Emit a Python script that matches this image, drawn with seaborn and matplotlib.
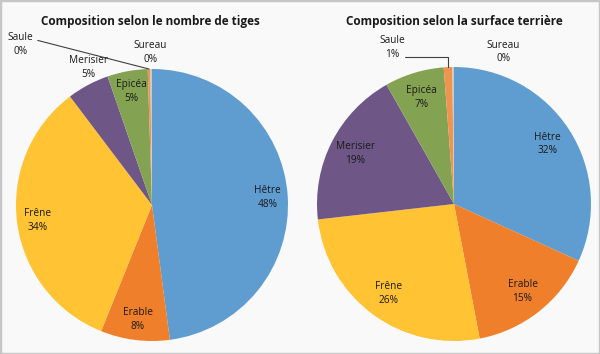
import numpy as np
import seaborn as sns
import matplotlib.pyplot as plt
from matplotlib.patches import Rectangle

species = ['Hêtre', 'Erable', 'Frêne', 'Merisier', 'Epicéa', 'Saule', 'Sureau']
tiges = [47.9, 8.2, 33.6, 5.0, 4.8, 0.3, 0.2]
surface = [31.8, 15.2, 26.2, 18.6, 7.0, 1.0, 0.2]
pct_tiges = ['48%', '8%', '34%', '5%', '5%', '0%', '0%']
pct_surface = ['32%', '15%', '26%', '19%', '7%', '1%', '0%']
titles = ['Composition selon le nombre de tiges',
          'Composition selon la surface terrière']

colors = ['#5f9dd1', '#f07f2b', '#ffc333', '#6e5687', '#83a352', '#ee944f', '#c9c9c9']

sns.set_theme(style='white')
plt.rcParams['font.family'] = ['Open Sans', 'DejaVu Sans']

fig = plt.figure(figsize=(6.0, 3.54), dpi=100, facecolor='#f9f9f9')
fig.patches.append(Rectangle((0, 0), 1, 1, transform=fig.transFigure,
                             fill=False, edgecolor='#c6c6c6', linewidth=2.5))

W, H = 600, 354


def pie_axes(cx, cy, r):
    return fig.add_axes([(cx - r) / W, (H - cy - r) / H, 2 * r / W, 2 * r / H])


def polar(theta, rad):
    t = np.deg2rad(theta)
    return rad * np.cos(t), rad * np.sin(t)


# label placement: inside at inner_r, or explicit xy for the small slices
outside = [
    {3: (-0.47, 1.01), 5: (-0.97, 1.18), 6: (-0.01, 1.12)},
    {5: (-0.45, 1.14), 6: (0.36, 1.11)},
]
inner_r = [0.85, 0.81]

specs = [(152, 205, 136, tiges, pct_tiges), (454, 204, 137, surface, pct_surface)]
for k, (cx, cy, r, vals, pcts) in enumerate(specs):
    ax = pie_axes(cx, cy, r)
    wedges, _ = ax.pie(vals, colors=colors, startangle=90, counterclock=False,
                       radius=1, wedgeprops=dict(linewidth=0))
    ax.set_xlim(-1, 1)
    ax.set_ylim(-1, 1)
    ax.set_aspect('equal')
    ax.axis('off')
    for i, w in enumerate(wedges):
        mid = (w.theta1 + w.theta2) / 2
        if i in outside[k]:
            x, y = outside[k][i]
        else:
            x, y = polar(mid, inner_r[k])
        ax.text(x, y, f'{species[i]}\n{pcts[i]}', ha='center', va='center',
                fontsize=7.3, color='#1a1a1a', linespacing=1.35, clip_on=False)
    # leader line for Saule
    sw = wedges[5]
    ex, ey = polar((sw.theta1 + sw.theta2) / 2, 1.0)
    if k == 0:
        ax.plot([-0.84, ex], [1.21, ey], color='#404040', lw=0.8, clip_on=False)
    else:
        ax.plot([-0.36, ex, ex], [1.07, 1.07, ey], color='#404040', lw=0.8,
                clip_on=False)

fig.text(150 / W, 1 - 21 / H, titles[0], ha='center', va='center',
         fontsize=8.5, fontweight='bold', color='#1a1a1a')
fig.text(454 / W, 1 - 21 / H, titles[1], ha='center', va='center',
         fontsize=8.5, fontweight='bold', color='#1a1a1a')

fig.savefig('out.png', dpi=100, facecolor=fig.get_facecolor())
